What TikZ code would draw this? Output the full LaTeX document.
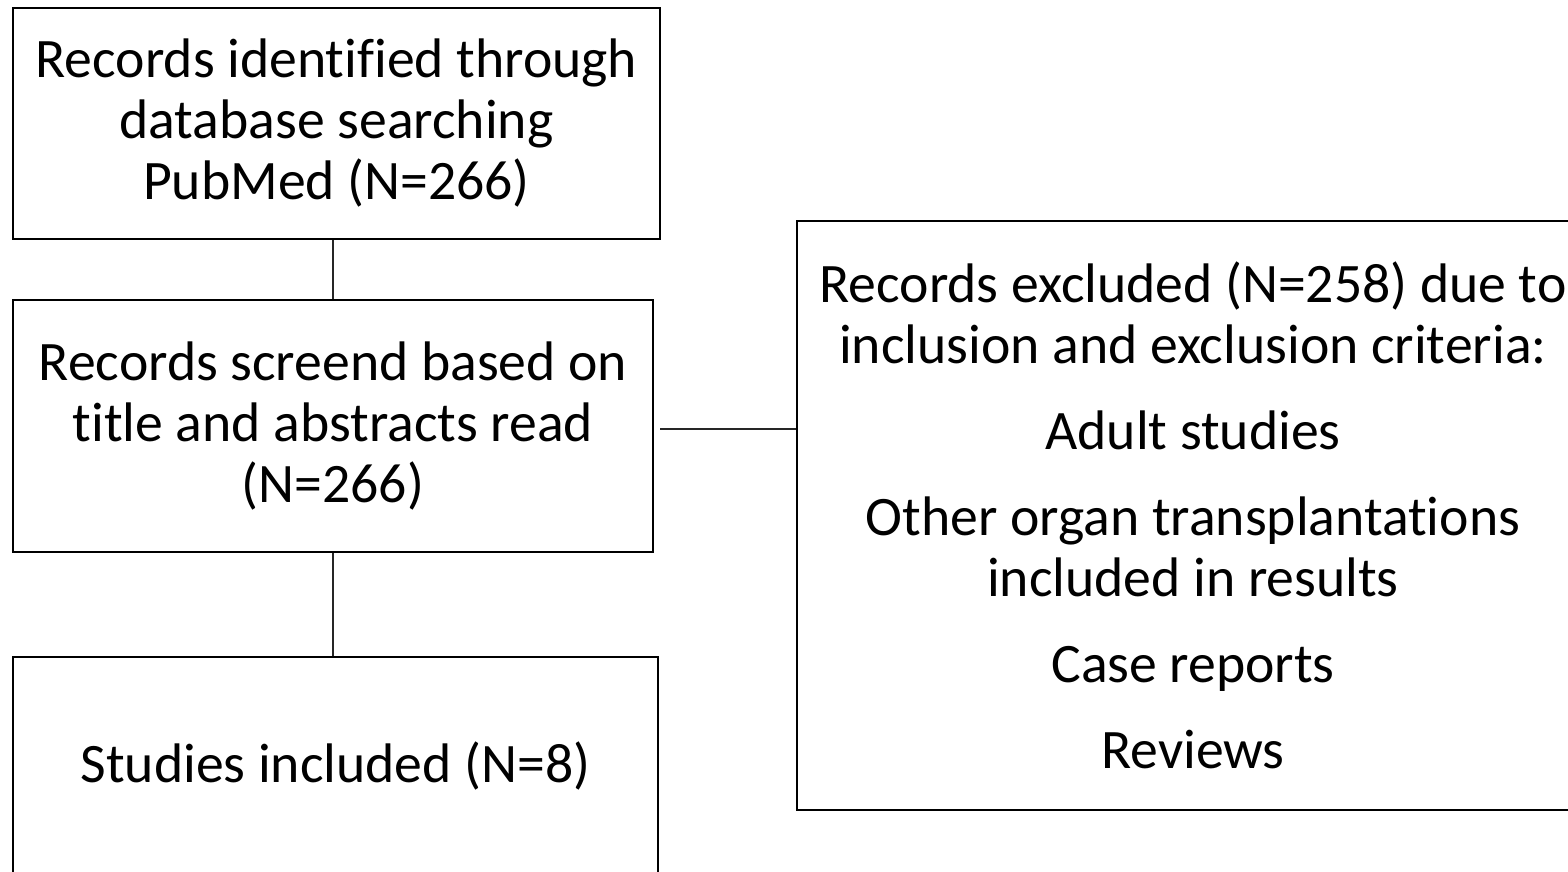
\documentclass[tikz,border=0pt]{standalone}
\usepackage{fontspec}
\setmainfont[Ligatures=NoCommon]{Carlito}
\usepackage{tikz}
\tikzset{
  box/.style={draw=black,line width=2.4pt,inner sep=0pt,align=center,
    font=\fontsize{55.7}{61}\selectfont},
  link/.style={draw=black!85,line width=1.3pt},
}
\begin{document}
\begin{tikzpicture}[x=1pt,y=-1pt]
\useasboundingbox (0,0) rectangle (1568,871);
\clip (0,0) rectangle (1568,871);
\node[box,minimum width=647pt,minimum height=231pt] (rec) at (336.5,123.5)
  {Records identified through\\database searching\\PubMed (N=266)};
\node[box,minimum width=640pt,minimum height=252pt] (scr) at (333,426)
  {Records screend based on\\title and abstracts read\\(N=266)};
\node[box,minimum width=645pt,minimum height=218pt] (inc) at (335.5,766)
  {Studies included (N=8)};
\node[box,minimum width=792pt,minimum height=589pt] (exc) at (1193,515.5)
  {Records excluded (N=258) due to\\inclusion and exclusion criteria:\\[25pt]
   Adult studies\\[25pt]
   Other organ transplantations\\included in results\\[25pt]
   Case reports\\[25pt]
   Reviews};
\draw[link] (scr.north |- rec.south) -- (scr.north);
\draw[link] (scr.south) -- (scr.south |- inc.north);
\draw[link] ([xshift=6pt,yshift=-3pt]scr.east) -- ([yshift=-3pt]scr.east -| exc.west);
\end{tikzpicture}
\end{document}
